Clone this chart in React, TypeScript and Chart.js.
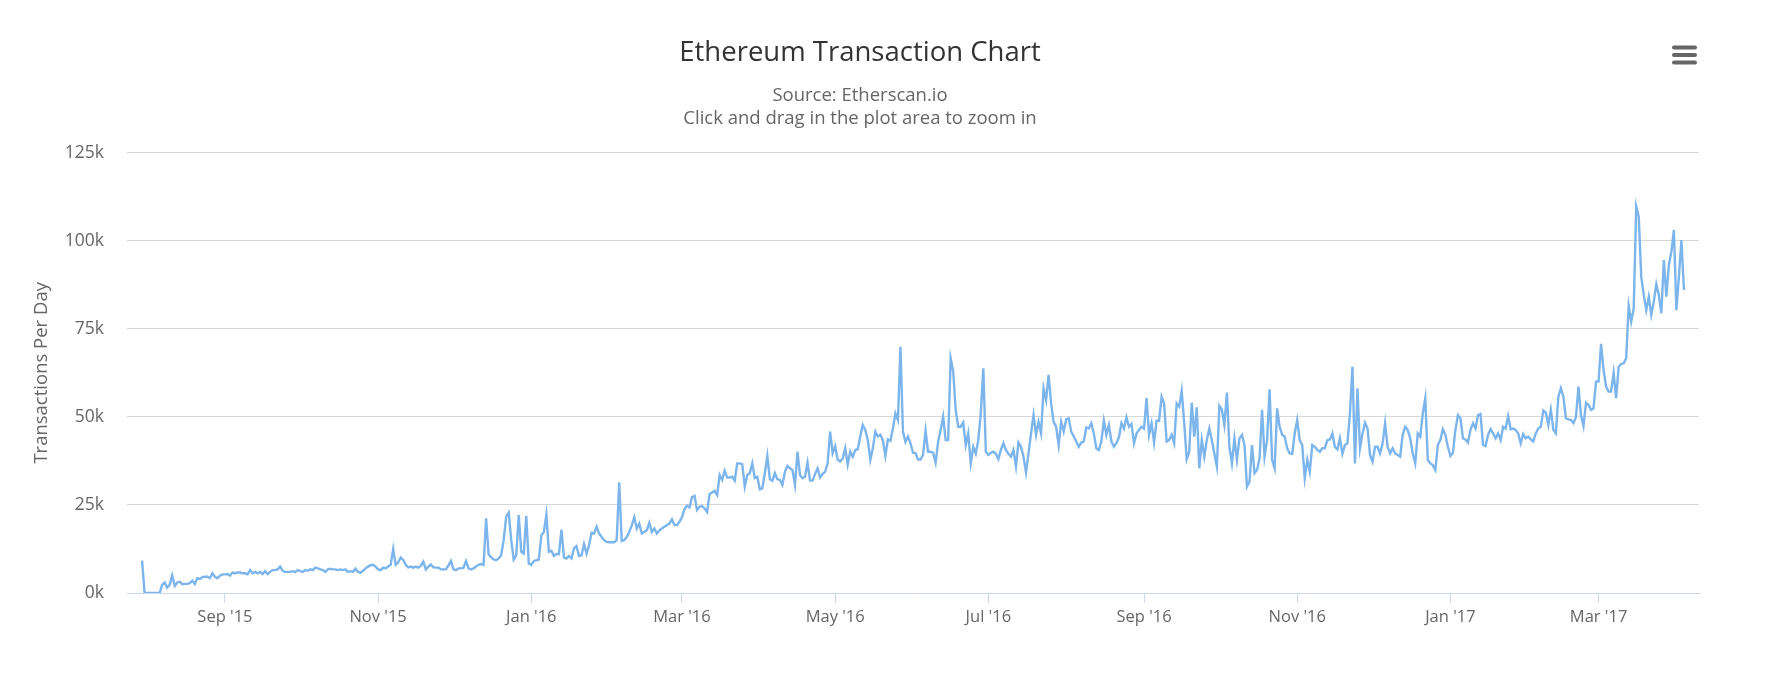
import React, { useEffect, useRef } from 'react';
import { Chart, registerables } from 'chart.js';

Chart.register(...registerables);

// Daily transactions (thousands), one value per day starting at startDate
const startDate = '2015-07-30';

// Jul 30 2015 – Nov 6 2015
const txPart1 = [
  9.2, 0, 0, 0, 0, 0, 0, 0, 2.3, 3.0,
  1.5, 2.3, 5.0, 2.0, 3.0, 3.2, 2.5, 2.6, 2.6, 2.8,
  3.5, 2.6, 4.2, 4.0, 4.5, 4.6, 4.6, 4.2, 5.6, 4.6,
  4.2, 4.9, 5.3, 5.3, 5.4, 4.9, 5.8, 5.6, 5.8, 5.8,
  5.6, 5.6, 5.3, 6.5, 5.6, 6.0, 5.6, 6.0, 5.4, 6.2,
  5.4, 6.0, 6.5, 6.5, 6.7, 7.5, 6.3, 6.0, 6.0, 6.0,
  6.2, 5.9, 6.5, 6.2, 6.0, 6.5, 6.3, 6.7, 6.5, 7.2,
  7.0, 6.7, 6.5, 6.0, 6.7, 6.9, 6.7, 6.7, 6.5, 6.7,
  6.5, 6.7, 6.0, 6.2, 6.0, 6.9, 6.0, 5.8, 6.3, 7.0,
  7.5, 7.9, 8.0, 7.5, 6.7, 6.5, 7.2, 7.0, 7.5, 8.0,
];

// Nov 7 2015 – Feb 14 2016
const txPart2 = [
  12.5, 8.0, 8.7, 10.1, 9.4, 8.0, 7.3, 7.5, 7.2, 7.5,
  7.2, 7.7, 8.9, 6.7, 7.5, 8.1, 7.3, 7.2, 7.2, 6.7,
  6.7, 6.7, 7.8, 9.1, 6.7, 6.5, 7.0, 7.0, 7.2, 9.1,
  7.0, 6.7, 7.0, 7.5, 8.0, 8.2, 8.0, 21.2, 11.0, 10.1,
  9.5, 9.3, 9.8, 10.7, 15.0, 21.7, 22.8, 15.0, 9.5, 10.7,
  22.1, 11.7, 11.2, 21.9, 8.4, 8.0, 9.1, 9.3, 9.5, 16.4,
  17.3, 22.3, 11.7, 12.0, 10.5, 11.1, 11.0, 18.0, 10.1, 9.8,
  10.5, 9.8, 12.7, 13.3, 10.5, 10.7, 13.9, 11.2, 13.6, 17.1,
  16.9, 18.8, 16.9, 15.9, 15.0, 14.5, 14.4, 14.4, 14.4, 15.0,
  31.4, 14.8, 15.0, 15.9, 17.3, 19.1, 21.5, 18.3, 19.7, 16.9,
];

// Feb 15 2016 – May 24 2016
const txPart3 = [
  17.3, 17.8, 19.9, 17.3, 18.3, 16.9, 17.8, 18.3, 18.8, 19.3,
  19.7, 20.9, 19.3, 19.3, 20.2, 21.5, 23.8, 24.8, 24.3, 27.2,
  27.6, 23.6, 24.5, 24.7, 24.0, 23.0, 28.1, 28.5, 29.0, 27.8,
  33.5, 32.1, 34.7, 32.8, 32.8, 33.0, 31.9, 36.8, 36.8, 36.6,
  30.2, 33.5, 34.0, 36.8, 32.6, 33.0, 29.4, 29.7, 34.0, 38.9,
  32.3, 31.9, 34.0, 32.3, 32.1, 30.7, 34.4, 36.1, 35.4, 34.9,
  30.7, 40.1, 33.5, 32.6, 33.0, 37.0, 31.9, 31.9, 33.8, 35.4,
  32.8, 33.8, 34.4, 36.8, 45.8, 39.7, 41.7, 37.9, 37.3, 38.2,
  41.1, 36.4, 40.1, 38.7, 40.6, 40.8, 44.4, 47.7, 46.3, 43.4,
  37.8, 41.1, 45.8, 44.4, 44.9, 43.4, 38.9, 43.6, 43.2, 46.7,
];

// May 25 2016 – Sep 1 2016
const txPart4 = [
  51.0, 49.1, 69.9, 45.8, 42.9, 44.4, 42.5, 39.8, 39.7, 37.9,
  37.9, 39.2, 46.1, 40.1, 40.1, 39.8, 37.0, 42.9, 46.3, 50.1,
  43.4, 43.4, 66.6, 63.0, 52.0, 47.2, 47.2, 48.4, 42.0, 45.3,
  36.8, 41.5, 39.6, 43.4, 51.0, 63.8, 40.1, 39.2, 39.8, 40.1,
  39.5, 38.0, 40.6, 42.5, 40.6, 39.5, 38.7, 40.6, 35.9, 42.7,
  41.5, 38.7, 34.2, 39.6, 45.3, 50.5, 44.9, 48.6, 45.3, 58.1,
  54.8, 61.9, 53.8, 48.6, 47.2, 42.0, 48.6, 45.8, 49.3, 49.6,
  45.8, 44.5, 43.0, 41.5, 42.7, 43.0, 47.0, 46.7, 48.2, 45.3,
  41.1, 40.6, 43.0, 48.9, 44.9, 47.7, 43.0, 41.5, 42.5, 44.2,
  48.2, 46.7, 49.9, 47.2, 48.0, 42.5, 45.3, 46.3, 47.2, 46.7,
];

// Sep 2 2016 – Dec 10 2016
const txPart5 = [
  55.3, 44.9, 48.2, 42.7, 48.9, 48.9, 55.7, 53.8, 43.0, 43.4,
  44.9, 42.5, 53.8, 52.9, 57.4, 48.2, 38.0, 40.1, 54.0, 44.4,
  52.7, 35.4, 43.4, 38.7, 43.4, 46.7, 43.4, 39.6, 35.9, 53.1,
  52.0, 47.7, 56.9, 41.5, 36.8, 43.9, 37.8, 43.9, 44.9, 42.0,
  30.2, 31.6, 42.0, 34.0, 34.9, 38.2, 52.0, 38.7, 43.4, 57.8,
  37.8, 35.4, 52.4, 47.2, 44.9, 44.4, 41.1, 39.6, 39.5, 45.3,
  49.1, 43.4, 42.0, 32.6, 37.8, 34.4, 42.0, 41.5, 40.6, 40.1,
  41.1, 41.1, 43.4, 43.6, 45.3, 41.5, 40.8, 43.9, 39.5, 42.0,
  42.5, 51.0, 64.2, 36.8, 58.1, 41.1, 45.3, 48.3, 46.7, 39.2,
  37.3, 41.5, 41.5, 39.6, 42.5, 48.2, 41.5, 39.6, 41.1, 39.6,
];

// Dec 11 2016 – Apr 4 2017
const txPart6 = [
  39.2, 38.7, 44.9, 47.2, 46.3, 43.9, 39.6, 36.8, 45.3, 44.4,
  51.0, 55.3, 37.8, 36.8, 36.3, 34.9, 42.0, 43.4, 46.5, 44.9,
  41.5, 38.9, 39.8, 46.3, 50.5, 49.6, 43.9, 43.6, 42.7, 46.3,
  48.2, 46.7, 50.5, 50.8, 42.0, 41.7, 44.9, 46.5, 45.3, 43.9,
  45.3, 43.4, 47.2, 46.7, 50.2, 46.5, 46.7, 46.3, 45.3, 42.5,
  45.1, 43.9, 44.4, 43.6, 43.0, 45.3, 46.7, 47.2, 51.8, 51.2,
  47.7, 52.0, 46.3, 45.3, 55.7, 58.1, 55.7, 49.6, 49.3, 49.1,
  48.2, 49.9, 58.6, 50.5, 47.4, 54.0, 53.4, 52.0, 52.4, 60.0,
  60.0, 70.7, 63.3, 58.6, 57.2, 57.2, 62.5, 55.3, 64.2, 65.0,
  65.2, 66.6, 81.5, 77.0, 80.8, 109.8, 106.8, 89.8, 84.6, 80.3,
  84.1, 78.9, 82.7, 87.7, 84.6, 79.4, 94.5, 84.1, 93.1, 96.9,
  103.0, 80.3, 89.8, 100.2, 86.0,
];

const tickDates = [
  '2015-09-01', '2015-11-01', '2016-01-01', '2016-03-01', '2016-05-01',
  '2016-07-01', '2016-09-01', '2016-11-01', '2017-01-01', '2017-03-01',
];
const tickLabels = [
  "Sep '15", "Nov '15", "Jan '16", "Mar '16", "May '16",
  "Jul '16", "Sep '16", "Nov '16", "Jan '17", "Mar '17",
];
const axisStart = '2015-07-24';
const axisEnd = '2017-04-10';
const yTickValues = [0, 25, 50, 75, 100, 125];

const dayIndex = (iso: string) => {
  const [y, m, d] = iso.split('-').map(Number);
  const [sy, sm, sd] = startDate.split('-').map(Number);
  return Math.round((Date.UTC(y, m - 1, d) - Date.UTC(sy, sm - 1, sd)) / 864e5);
};

const FONT = "'Open Sans', 'Noto Sans', sans-serif";

const menuIconPlugin = {
  id: 'menuIcon',
  afterDraw(chart: any) {
    const ctx = chart.ctx;
    ctx.save();
    ctx.strokeStyle = '#666666';
    ctx.lineWidth = 4;
    ctx.lineCap = 'round';
    [47.5, 55, 62.5].forEach((y) => {
      ctx.beginPath();
      ctx.moveTo(1674, y);
      ctx.lineTo(1695, y);
      ctx.stroke();
    });
    ctx.restore();
  },
};

export default function App() {
  const ref = useRef<HTMLCanvasElement>(null);

  useEffect(() => {
    const daily = [...txPart1, ...txPart2, ...txPart3, ...txPart4, ...txPart5, ...txPart6];
    const points = daily.map((v, i) => ({ x: i, y: v }));
    const tickDays = tickDates.map(dayIndex);

    const chart = new Chart(ref.current as HTMLCanvasElement, {
      type: 'line',
      data: {
        datasets: [
          {
            label: 'Transactions',
            data: points,
            borderColor: '#7cb5ec',
            borderWidth: 2.4,
            pointRadius: 0,
            pointHoverRadius: 0,
            tension: 0,
            fill: false,
          },
        ],
      },
      options: {
        animation: false,
        responsive: false,
        devicePixelRatio: 1,
        layout: { padding: { left: 21, right: 85, top: 0, bottom: 51 } },
        plugins: {
          legend: { display: false },
          tooltip: { enabled: false },
          title: {
            display: true,
            text: 'Ethereum Transaction Chart',
            color: '#333333',
            font: { family: FONT, size: 27.5, weight: 'normal', lineHeight: 1.2 },
            padding: { top: 36.25, bottom: 0 },
          },
          subtitle: {
            display: true,
            text: ['Source: Etherscan.io', 'Click and drag in the plot area to zoom in'],
            color: '#666666',
            font: { family: FONT, size: 18.5, lineHeight: '22.4px' },
            padding: { top: 15.5, bottom: 23.1 },
          },
        },
        scales: {
          x: {
            type: 'linear',
            min: dayIndex(axisStart),
            max: dayIndex(axisEnd),
            afterBuildTicks: (s: any) => {
              s.ticks = tickDays.map((v) => ({ value: v }));
            },
            afterFit: (s: any) => {
              s.height = 40;
            },
            ticks: {
              autoSkip: false,
              maxRotation: 0,
              padding: 4,
              color: '#666666',
              font: { family: FONT, size: 16.5 },
              callback: (v: any) => {
                const i = tickDays.indexOf(Number(v));
                return i >= 0 ? tickLabels[i] : '';
              },
            },
            grid: {
              drawOnChartArea: false,
              drawTicks: true,
              tickLength: 10,
              color: '#ccd6eb',
              tickColor: '#ccd6eb',
            },
            border: { display: true, color: '#ccd6eb', width: 1 },
          },
          y: {
            min: 0,
            max: 125,
            afterBuildTicks: (s: any) => {
              s.ticks = yTickValues.map((v) => ({ value: v }));
            },
            afterFit: (s: any) => {
              s.width = 106;
            },
            ticks: {
              padding: 23,
              color: '#666666',
              font: { family: FONT, size: 17.5 },
              callback: (v: any) => `${v}k`,
            },
            grid: { color: '#d8d8d8', drawTicks: false },
            border: { display: false },
            title: {
              display: true,
              text: 'Transactions Per Day',
              color: '#666666',
              font: { family: FONT, size: 18.5 },
              padding: { top: 9.5, bottom: 0 },
            },
          },
        },
      },
      plugins: [menuIconPlugin],
    });
    return () => chart.destroy();
  }, []);

  return (
    <div style={{ position: 'absolute', left: 0, top: 0, width: 1784, height: 684, background: '#ffffff' }}>
      <canvas ref={ref} width={1784} height={684} />
    </div>
  );
}
